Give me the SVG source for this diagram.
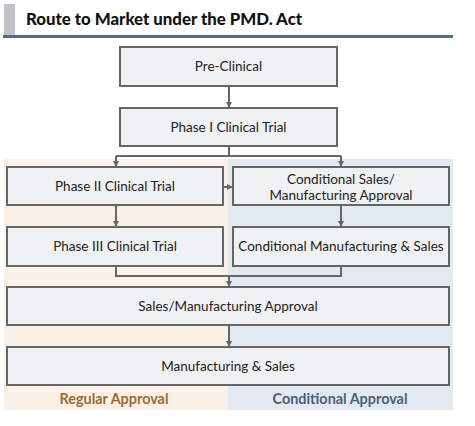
<svg xmlns="http://www.w3.org/2000/svg" width="475" height="426" viewBox="0 0 475 426">
<style>
.box{fill:#f0f1f3;stroke:#666;stroke-width:2}
.t{font-family:Lato,"Open Sans",sans-serif;font-size:13.5px;fill:#222;text-anchor:middle}
.c{fill:none;stroke:#666;stroke-width:2}
.lab{font-family:Lato,"Open Sans",sans-serif;font-size:14.4px;font-weight:bold;text-anchor:middle}
</style>
<defs>
<marker id="a" markerWidth="6" markerHeight="6" refX="5" refY="3" orient="auto" markerUnits="userSpaceOnUse">
<path d="M0,0 L6,3 L0,6 Z" fill="#666"/>
</marker>
</defs>
<rect x="4" y="4" width="11" height="31" fill="#c0c4c9"/>
<text x="26" y="25" font-family="Lato,'Open Sans',sans-serif" font-size="16.8" font-weight="900" fill="#111">Route to Market under the PMD. Act</text>
<rect x="3" y="35" width="450" height="3" fill="#4f6b86"/>
<rect x="4" y="159" width="224" height="251" fill="#f9f1e7"/>
<rect x="228" y="159" width="225" height="251" fill="#e3e9f1"/>
<g id="connectors">
<path class="c" d="M229,86 V107" marker-end="url(#a)"/>
<path class="c" d="M229,146 V156 M116,156 H341"/>
<path class="c" d="M116,156 V166" marker-end="url(#a)"/>
<path class="c" d="M341,156 V166" marker-end="url(#a)"/>
<path class="c" d="M223,187 H232" marker-end="url(#a)"/>
<path class="c" d="M116,205 V226" marker-end="url(#a)"/>
<path class="c" d="M341,205 V226" marker-end="url(#a)"/>
<path class="c" d="M116,266 V276 H341 V266"/>
<path class="c" d="M229,276 V286" marker-end="url(#a)"/>
<path class="c" d="M229,325 V346" marker-end="url(#a)"/>
</g>
<g id="preclinical"><rect class="box" x="120" y="47" width="217" height="39"/><text class="t" x="228.5" y="71">Pre-Clinical</text></g>
<g id="phase1"><rect class="box" x="120" y="108" width="217" height="38"/><text class="t" x="228.5" y="132">Phase I Clinical Trial</text></g>
<g id="phase2"><rect class="box" x="7" y="167" width="216" height="38"/><text class="t" x="115" y="191">Phase II Clinical Trial</text></g>
<g id="condapproval"><rect class="box" x="233" y="167" width="216" height="38"/><text class="t" x="341" y="184">Conditional Sales/</text><text class="t" x="341" y="200">Manufacturing Approval</text></g>
<g id="phase3"><rect class="box" x="7" y="227" width="216" height="39"/><text class="t" x="115" y="251">Phase III Clinical Trial</text></g>
<g id="condmfg"><rect class="box" x="233" y="227" width="216" height="39"/><text class="t" x="341" y="251">Conditional Manufacturing &amp; Sales</text></g>
<g id="salesapproval"><rect class="box" x="7" y="287" width="442" height="38"/><text class="t" x="228" y="311">Sales/Manufacturing Approval</text></g>
<g id="mfgsales"><rect class="box" x="7" y="347" width="442" height="38"/><text class="t" x="228" y="371">Manufacturing &amp; Sales</text></g>
<text class="lab" x="114" y="404" fill="#9c6b30">Regular Approval</text>
<text class="lab" x="340" y="404" fill="#4d5f78">Conditional Approval</text>
</svg>
